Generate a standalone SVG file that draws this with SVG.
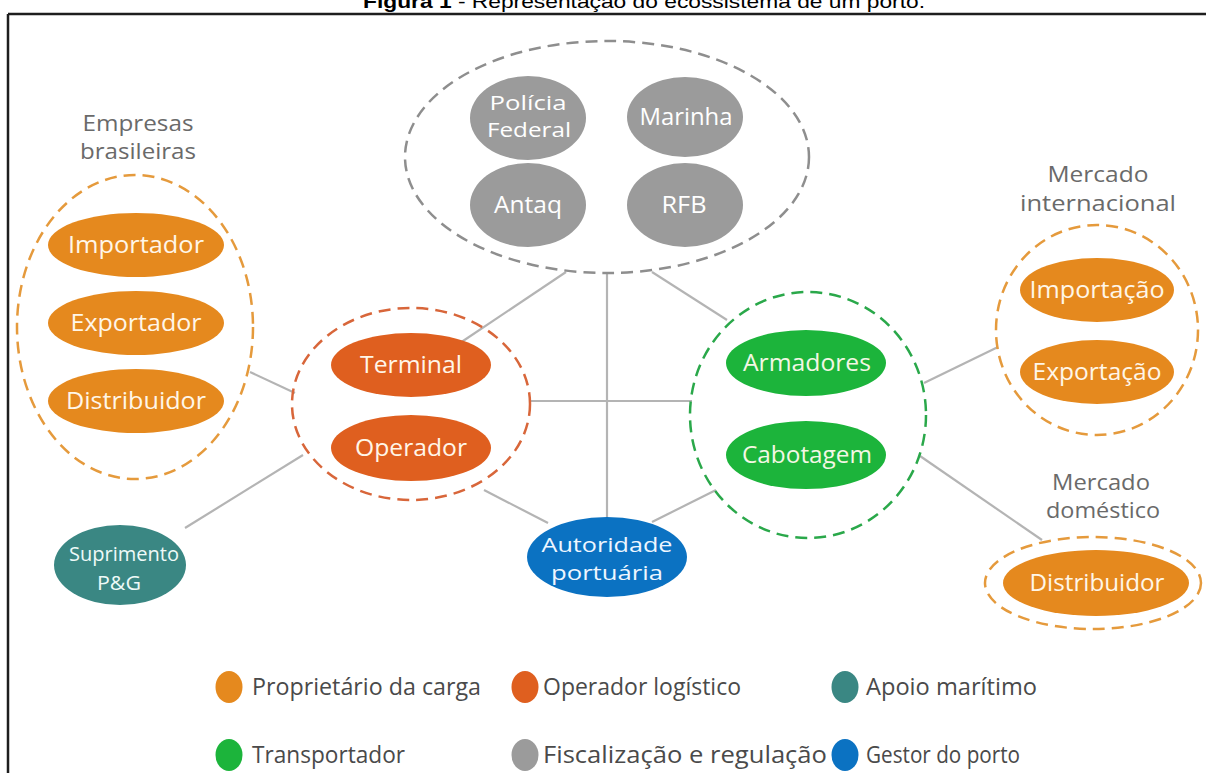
<svg xmlns="http://www.w3.org/2000/svg" width="1206" height="773" viewBox="0 0 1206 773">
<style>
.lbl{font-family:"Open Sans","Noto Sans",sans-serif;font-size:21px;fill:#6a6a6a;text-anchor:middle}
.nt{font-family:"Open Sans","Noto Sans",sans-serif;font-size:23px;text-anchor:middle;fill:#fff6e8}
.nt2{font-family:"Open Sans","Noto Sans",sans-serif;font-size:20px;text-anchor:middle;fill:#ffffff}
.lg{font-family:"Open Sans","Noto Sans",sans-serif;font-size:23px;fill:#4a4a4a}
.ring{fill:none;stroke-width:2.5;stroke-dasharray:12 7}
.conn{stroke:#b4b4b4;stroke-width:2.2;fill:none}
.c-prop{fill:#e5891e}
.c-op{fill:#df5f1f}
.c-ap{fill:#3a8783}
.c-tr{fill:#1cb43b}
.c-fi{fill:#9b9b9b}
.c-ge{fill:#0b72c2}
</style>
<rect x="0" y="0" width="1206" height="773" fill="#ffffff"/>
<text x="363" y="8" font-family="Liberation Sans, Arial, sans-serif" font-size="19" fill="#000" textLength="562" lengthAdjust="spacingAndGlyphs"><tspan font-weight="bold">Figura 1</tspan> - Representação do ecossistema de um porto.</text>
<g id="frame" stroke="#1e1e1e" stroke-width="2.5" fill="none">
<line x1="8" y1="14" x2="1206" y2="14"/>
<line x1="8" y1="14" x2="8" y2="773"/>
</g>
<g id="connectors" class="conn">
<line x1="250" y1="372" x2="295" y2="393"/>
<line x1="185" y1="528" x2="303" y2="455"/>
<line x1="566" y1="272" x2="460" y2="343"/>
<line x1="607" y1="272" x2="607" y2="518"/>
<line x1="652" y1="272" x2="727" y2="320"/>
<line x1="530" y1="401" x2="692" y2="401"/>
<line x1="484" y1="490" x2="548" y2="523"/>
<line x1="652" y1="522" x2="716" y2="490"/>
<line x1="924" y1="383" x2="998" y2="347"/>
<line x1="920" y1="456" x2="1042" y2="540"/>
</g>
<g id="empresas-brasileiras">
<text class="lbl" x="138" y="131" textLength="111" lengthAdjust="spacingAndGlyphs">Empresas</text>
<text class="lbl" x="138" y="159" textLength="116" lengthAdjust="spacingAndGlyphs">brasileiras</text>
<ellipse class="ring" cx="135" cy="327" rx="118" ry="152" stroke="#e59a3c"/>
</g>
<g id="importador"><ellipse class="c-prop" cx="136" cy="245" rx="88" ry="32"/><text class="nt" x="136" y="253" textLength="136" lengthAdjust="spacingAndGlyphs">Importador</text></g>
<g id="exportador"><ellipse class="c-prop" cx="136" cy="323" rx="88" ry="32"/><text class="nt" x="136" y="331" textLength="131" lengthAdjust="spacingAndGlyphs">Exportador</text></g>
<g id="distribuidor-br"><ellipse class="c-prop" cx="136" cy="401" rx="88" ry="32"/><text class="nt" x="136" y="409" textLength="140" lengthAdjust="spacingAndGlyphs">Distribuidor</text></g>
<g id="fiscalizacao">
<ellipse class="ring" cx="607" cy="157" rx="202" ry="116" stroke="#8e8e8e"/>
</g>
<g id="policia-federal"><ellipse class="c-fi" cx="528" cy="118" rx="58" ry="42"/><text class="nt2" x="528" y="110" textLength="77" lengthAdjust="spacingAndGlyphs">Polícia</text><text class="nt2" x="529" y="137" textLength="84" lengthAdjust="spacingAndGlyphs">Federal</text></g>
<g id="marinha"><ellipse class="c-fi" cx="685" cy="117" rx="58" ry="40"/><text class="nt" x="686" y="125" style="fill:#fff" textLength="93" lengthAdjust="spacingAndGlyphs">Marinha</text></g>
<g id="antaq"><ellipse class="c-fi" cx="528" cy="205" rx="58" ry="42"/><text class="nt" x="528" y="213" style="fill:#fff" textLength="68" lengthAdjust="spacingAndGlyphs">Antaq</text></g>
<g id="rfb"><ellipse class="c-fi" cx="685" cy="205" rx="58" ry="42"/><text class="nt" x="684" y="213" style="fill:#fff" textLength="45" lengthAdjust="spacingAndGlyphs">RFB</text></g>
<g id="operador-logistico">
<ellipse class="ring" cx="411" cy="404" rx="119" ry="96" stroke="#d8663a"/>
</g>
<g id="terminal"><ellipse class="c-op" cx="411" cy="365" rx="80" ry="32"/><text class="nt" x="411" y="373" textLength="102" lengthAdjust="spacingAndGlyphs">Terminal</text></g>
<g id="operador"><ellipse class="c-op" cx="411" cy="448" rx="80" ry="33"/><text class="nt" x="411" y="456" textLength="112" lengthAdjust="spacingAndGlyphs">Operador</text></g>
<g id="transportador">
<ellipse class="ring" cx="808" cy="415" rx="118" ry="123" stroke="#2aa84a"/>
</g>
<g id="armadores"><ellipse class="c-tr" cx="806" cy="363" rx="80" ry="33"/><text class="nt" x="807" y="371" style="fill:#f3f7e4" textLength="128" lengthAdjust="spacingAndGlyphs">Armadores</text></g>
<g id="cabotagem"><ellipse class="c-tr" cx="806" cy="455" rx="80" ry="34"/><text class="nt" x="807" y="463" style="fill:#f3f7e4" textLength="130" lengthAdjust="spacingAndGlyphs">Cabotagem</text></g>
<g id="autoridade-portuaria"><ellipse class="c-ge" cx="607" cy="557" rx="80" ry="40"/><text class="nt2" x="607" y="552" style="fill:#eef6ff" textLength="131" lengthAdjust="spacingAndGlyphs">Autoridade</text><text class="nt2" x="607" y="580" style="fill:#eef6ff" textLength="112" lengthAdjust="spacingAndGlyphs">portuária</text></g>
<g id="suprimento-pg"><ellipse class="c-ap" cx="120" cy="565" rx="66" ry="40"/><text class="nt2" x="124" y="561" style="fill:#eefaf8" textLength="110" lengthAdjust="spacingAndGlyphs">Suprimento</text><text class="nt2" x="119" y="590" style="fill:#eefaf8" textLength="44" lengthAdjust="spacingAndGlyphs">P&amp;G</text></g>
<g id="mercado-internacional">
<text class="lbl" x="1098" y="182" textLength="101" lengthAdjust="spacingAndGlyphs">Mercado</text>
<text class="lbl" x="1098" y="211" textLength="156" lengthAdjust="spacingAndGlyphs">internacional</text>
<ellipse class="ring" cx="1097" cy="330" rx="101" ry="105" stroke="#e59a3c"/>
</g>
<g id="importacao"><ellipse class="c-prop" cx="1097" cy="290" rx="77" ry="32"/><text class="nt" x="1097" y="298" textLength="135" lengthAdjust="spacingAndGlyphs">Importação</text></g>
<g id="exportacao"><ellipse class="c-prop" cx="1097" cy="372" rx="77" ry="32"/><text class="nt" x="1097" y="380" textLength="129" lengthAdjust="spacingAndGlyphs">Exportação</text></g>
<g id="mercado-domestico">
<text class="lbl" x="1101" y="490" textLength="98" lengthAdjust="spacingAndGlyphs">Mercado</text>
<text class="lbl" x="1103" y="518" textLength="114" lengthAdjust="spacingAndGlyphs">doméstico</text>
<ellipse class="ring" cx="1093" cy="583" rx="108" ry="46" stroke="#e59a3c"/>
</g>
<g id="distribuidor-dom"><ellipse class="c-prop" cx="1096" cy="583" rx="93" ry="33"/><text class="nt" x="1097" y="591" textLength="135" lengthAdjust="spacingAndGlyphs">Distribuidor</text></g>
<g id="legend">
<ellipse class="c-prop" cx="229" cy="687" rx="13.5" ry="16"/>
<text class="lg" x="252" y="695" textLength="229" lengthAdjust="spacingAndGlyphs">Proprietário da carga</text>
<ellipse class="c-op" cx="525" cy="687" rx="13.5" ry="16"/>
<text class="lg" x="543" y="695" textLength="198" lengthAdjust="spacingAndGlyphs">Operador logístico</text>
<ellipse class="c-ap" cx="845" cy="687" rx="13.5" ry="16"/>
<text class="lg" x="866" y="695" textLength="171" lengthAdjust="spacingAndGlyphs">Apoio marítimo</text>
<ellipse class="c-tr" cx="229" cy="755" rx="13.5" ry="16"/>
<text class="lg" x="252" y="763" textLength="153" lengthAdjust="spacingAndGlyphs">Transportador</text>
<ellipse class="c-fi" cx="525" cy="755" rx="13.5" ry="16"/>
<text class="lg" x="543" y="763" textLength="284" lengthAdjust="spacingAndGlyphs">Fiscalização e regulação</text>
<ellipse class="c-ge" cx="845" cy="755" rx="13.5" ry="16"/>
<text class="lg" x="866" y="763" textLength="154" lengthAdjust="spacingAndGlyphs">Gestor do porto</text>
</g>
</svg>
